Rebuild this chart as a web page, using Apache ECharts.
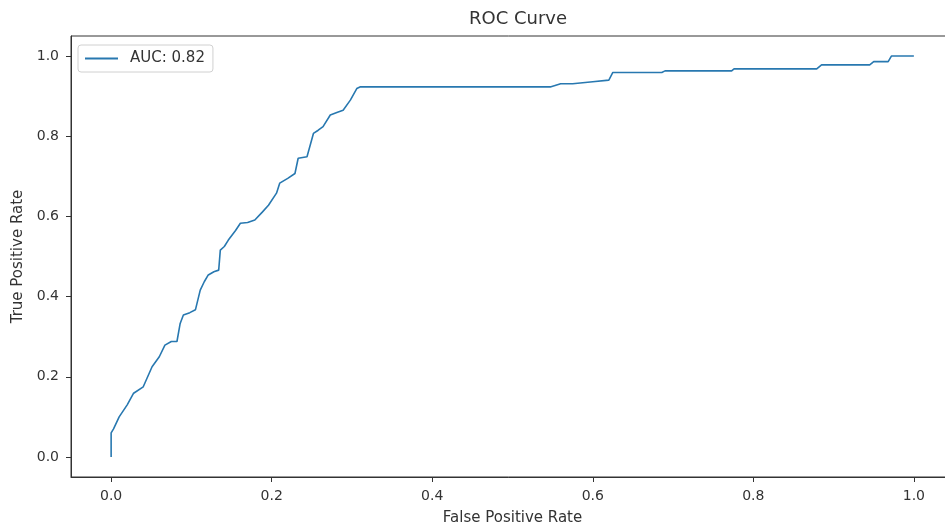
<!DOCTYPE html>
<html>
<head>
<meta charset="utf-8">
<script src="https://cdn.jsdelivr.net/npm/echarts@6/dist/echarts.min.js"></script>
<style>
  html, body { margin: 0; padding: 0; background: #fff; }
  #rocMain { width: 945px; height: 528px; }
</style>
</head>
<body>
<div id="rocMain"></div>
<script>
  // values
  var fpr = [0, 0, 0.003, 0.01, 0.02, 0.028, 0.04, 0.051, 0.06, 0.067,
    0.075, 0.082, 0.086, 0.09, 0.098, 0.105, 0.111, 0.116, 0.121, 0.128,
    0.134, 0.136, 0.141, 0.146, 0.155, 0.161, 0.17, 0.179, 0.188, 0.196,
    0.206, 0.21, 0.22, 0.229, 0.233, 0.244, 0.252, 0.258, 0.264, 0.273,
    0.282, 0.289, 0.298, 0.306, 0.31, 0.547, 0.56, 0.575, 0.6, 0.62,
    0.625, 0.686, 0.69, 0.773, 0.776, 0.879, 0.885, 0.945, 0.95, 0.968,
    0.972, 1.0];
  var tpr = [0, 0.06, 0.07, 0.1, 0.13, 0.159, 0.175, 0.225, 0.25, 0.279,
    0.288, 0.288, 0.333, 0.354, 0.36, 0.367, 0.416, 0.437, 0.454, 0.462,
    0.466, 0.516, 0.525, 0.541, 0.565, 0.583, 0.585, 0.591, 0.61, 0.628,
    0.658, 0.683, 0.695, 0.707, 0.745, 0.749, 0.807, 0.815, 0.824, 0.853,
    0.86, 0.865, 0.89, 0.919, 0.923, 0.923, 0.931, 0.931, 0.936, 0.94,
    0.959, 0.959, 0.963, 0.963, 0.968, 0.968, 0.978, 0.978, 0.986, 0.986,
    1.0, 1.0];
  var xTicks = [0, 0.2, 0.4, 0.6, 0.8, 1.0];
  var yTicks = [0, 0.2, 0.4, 0.6, 0.8, 1.0];
  var seriesName = 'AUC: 0.82';

  var points = fpr.map(function (x, i) { return [x, tpr[i]]; });

  var font = 'DejaVu Sans';
  var ink = '#333';
  var lineColor = '#2878b0';
  var chart = echarts.init(document.getElementById('rocMain'));
  var option = {
    animation: false,
    textStyle: { fontFamily: font },
    title: {
      text: 'ROC Curve',
      left: 513,
      top: 5,
      textAlign: 'center',
      textStyle: { fontFamily: font, fontSize: 18, fontWeight: 'normal', color: ink }
    },
    legend: {
      left: 78,
      top: 45,
      padding: [6, 8, 6, 7],
      itemWidth: 33,
      itemHeight: 2,
      borderColor: '#d0d0d0',
      borderWidth: 1,
      borderRadius: 3,
      textStyle: { fontFamily: font, fontSize: 15, color: ink, padding: [0, 0, 0, 7] },
      data: [{ name: seriesName, icon: 'rect' }]
    },
    grid: {
      left: 71,
      top: 36,
      width: 883,
      height: 441,
      containLabel: false,
      outerBoundsMode: 'none',
      show: true,
      borderColor: ink,
      borderWidth: 1
    },
    xAxis: {
      type: 'value',
      min: -0.05,
      max: 1.05,
      name: 'False Positive Rate',
      nameLocation: 'middle',
      nameGap: 34,
      nameTextStyle: { fontFamily: font, fontSize: 15, color: ink },
      axisLine: { show: true, onZero: false, lineStyle: { color: ink } },
      axisTick: { show: true, length: 5, customValues: xTicks, lineStyle: { color: ink } },
      axisLabel: {
        customValues: xTicks,
        margin: 12,
        fontSize: 14,
        color: ink,
        formatter: function (v) { return v.toFixed(1); }
      },
      splitLine: { show: false }
    },
    yAxis: {
      type: 'value',
      min: -0.05,
      max: 1.05,
      name: 'True Positive Rate',
      nameLocation: 'middle',
      nameGap: 45,
      nameTextStyle: { fontFamily: font, fontSize: 15, color: ink },
      axisLine: { show: true, onZero: false, lineStyle: { color: ink } },
      axisTick: { show: true, length: 5, customValues: yTicks, lineStyle: { color: ink } },
      axisLabel: {
        customValues: yTicks,
        margin: 12,
        fontSize: 14,
        color: ink,
        formatter: function (v) { return v.toFixed(1); }
      },
      splitLine: { show: false }
    },
    series: [{
      name: seriesName,
      type: 'line',
      symbol: 'none',
      data: points,
      lineStyle: { color: lineColor, width: 1.6 },
      itemStyle: { color: lineColor }
    }]
  };
  chart.setOption(option);
</script>
</body>
</html>
